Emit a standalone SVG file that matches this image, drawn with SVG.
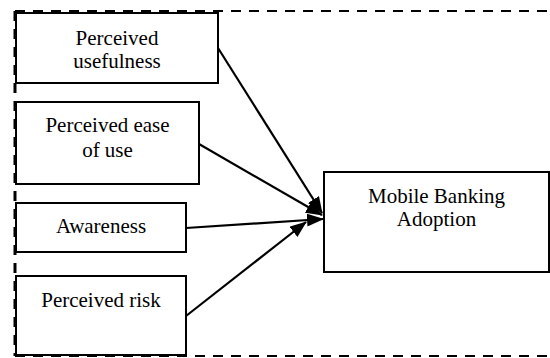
<svg xmlns="http://www.w3.org/2000/svg" width="550" height="358" viewBox="0 0 550 358">
  <style>
    .box { fill: #ffffff; stroke: #000000; stroke-width: 2; }
    .edge { stroke: #000000; stroke-width: 2.2; fill: none; marker-end: url(#head); }
    .frame { stroke: #000000; fill: none; stroke-dasharray: 10 8; }
    text { font-family: "Liberation Serif", Tinos, "DejaVu Serif", serif; font-size: 21px; fill: #000000; text-anchor: middle; }
  </style>
  <defs>
    <marker id="head" markerUnits="userSpaceOnUse" markerWidth="17" markerHeight="13" refX="16" refY="6.5" orient="auto">
      <path d="M0,0 L17,6.5 L0,13 Z" fill="#000000"/>
    </marker>
  </defs>

  <!-- dashed boundary -->
  <g id="boundary">
    <path class="frame" d="M15,11 H552" stroke-width="2.2"/>
    <path class="frame" d="M15,356 H552" stroke-width="2.2"/>
    <path class="frame" d="M15,11 V356" stroke-width="3"/>
  </g>

  <!-- connectors -->
  <g id="connectors">
    <line class="edge" x1="218" y1="48" x2="322" y2="213"/>
    <line class="edge" x1="199" y1="144" x2="322" y2="215"/>
    <line class="edge" x1="186" y1="228" x2="323" y2="219"/>
    <line class="edge" x1="186" y1="316" x2="306" y2="222"/>
  </g>

  <g id="perceived-usefulness">
    <rect class="box" x="16" y="13" width="202" height="70"/>
    <text x="117" y="45">Perceived</text>
    <text x="117" y="68">usefulness</text>
  </g>

  <g id="perceived-ease-of-use">
    <rect class="box" x="16" y="102" width="183" height="82"/>
    <text x="107.5" y="132">Perceived ease</text>
    <text x="107.5" y="157">of use</text>
  </g>

  <g id="awareness">
    <rect class="box" x="16" y="203" width="170" height="49"/>
    <text x="101" y="233">Awareness</text>
  </g>

  <g id="perceived-risk">
    <rect class="box" x="16" y="276" width="170" height="79"/>
    <text x="101" y="307">Perceived risk</text>
  </g>

  <g id="mobile-banking-adoption">
    <rect class="box" x="324" y="172" width="225" height="100"/>
    <text x="436.5" y="203">Mobile Banking</text>
    <text x="436.5" y="226">Adoption</text>
  </g>
</svg>
